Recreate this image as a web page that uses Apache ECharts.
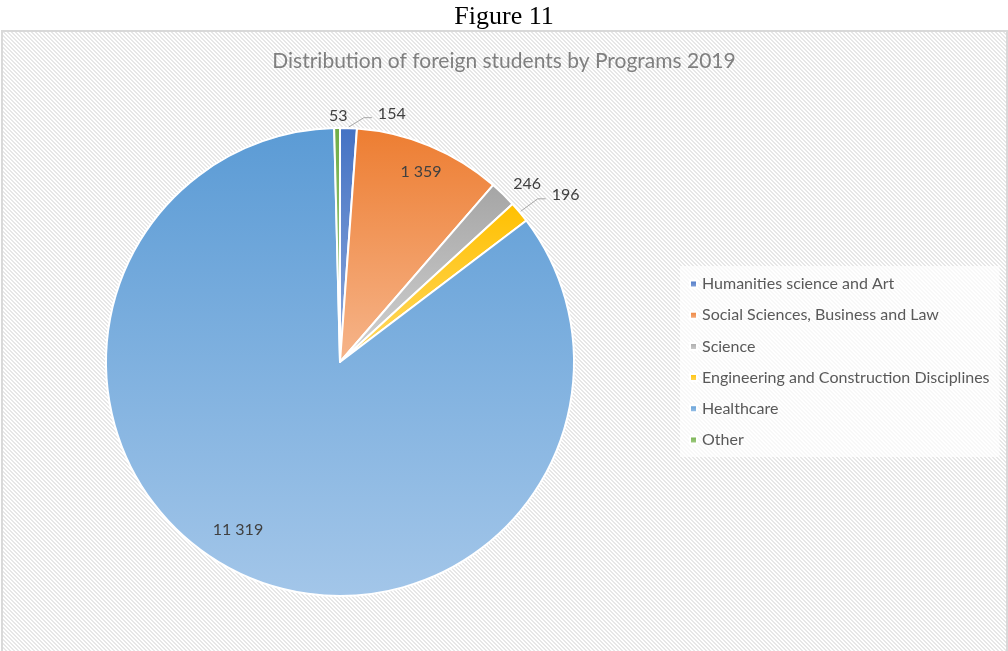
<!DOCTYPE html>
<html>
<head>
<meta charset="utf-8">
<script src="https://cdn.jsdelivr.net/npm/echarts@6/dist/echarts.min.js"></script>
<style>
  html, body { margin: 0; padding: 0; background: #ffffff; }
  #frame {
    position: absolute; left: 1px; top: 30px; width: 1003px; height: 619px;
    border: 2px solid #d9d9d9;
  }
  #chart { position: absolute; left: 0; top: 0; width: 1008px; height: 651px; }
</style>
</head>
<body>
<div id="frame"></div>
<div id="chart"></div>
<script>
// Foreign students by study programme, 2019
const categories = [
  'Humanities science and Art',
  'Social Sciences, Business and Law',
  'Science',
  'Engineering and Construction Disciplines',
  'Healthcare',
  'Other'
];
const students = [154, 1359, 246, 196, 11319, 53];

// slice colours: top colour and lighter bottom colour of each gradient
const topColors = ['#4472c4', '#ed7d31', '#a5a5a5', '#ffc000', '#5b9bd5', '#70ad47'];
const bottomColors = ['#8faadc', '#f6b58b', '#d2d2d2', '#ffd966', '#a3c6e9', '#a9d18e'];

// label placement: radius as a fraction of the pie radius, turn in degrees from the slice middle
const labelPlacement = [
  { r: 1.084, turn: 9.7, line: true },
  { r: 0.882, turn: 0.6, line: false },
  { r: 1.104, turn: 2.2, line: false },
  { r: 1.2, turn: 3.3, line: true },
  { r: 0.84, turn: 5.6, line: false },
  { r: 1.052, turn: 0.3, line: false }
];

const CX = 340, CY = 362, R = 234;

// hatched chart-area fill built from a small pixel tile
(function () {
  const t = document.createElement('canvas');
  t.width = 4; t.height = 4;
  const g = t.getContext('2d');
  g.fillStyle = '#ffffff'; g.fillRect(0, 0, 4, 4);
  g.fillStyle = '#e7e7e7';
  for (let y = 0; y < 4; y++) {
    for (let x = 0; x < 4; x++) {
      const k = ((x - y) % 4 + 4) % 4;
      if (k === 0 || k === 1) g.fillRect(x, y, 1, 1);
    }
  }
  document.getElementById('frame').style.background = 'url(' + t.toDataURL() + ')';
})();

const total = students.reduce((a, b) => a + b, 0);
const midAngles = [];
let acc = 0;
students.forEach(v => { midAngles.push((acc + v / 2) / total * 360); acc += v; });

const fmt = v => String(v).replace(/\B(?=(\d{3})+(?!\d))/g, ' ');

const seriesData = categories.map((name, i) => ({
  name: name,
  value: students[i],
  itemStyle: {
    color: {
      type: 'linear', x: 0, y: 0, x2: 0, y2: 1,
      colorStops: [
        { offset: 0, color: topColors[i] },
        { offset: 1, color: bottomColors[i] }
      ]
    }
  },
  labelLine: { show: labelPlacement[i].line }
}));

const chart = echarts.init(document.getElementById('chart'), null, { renderer: 'canvas' });

chart.setOption({
  backgroundColor: 'transparent',
  animation: false,
  title: [
    {
      text: 'Figure 11',
      left: 'center', top: -1,
      textStyle: { fontFamily: 'Liberation Serif', fontSize: 26, fontWeight: 'normal', color: '#000000' }
    },
    {
      text: 'Distribution of foreign students by Programs 2019',
      left: 'center', top: 46,
      textStyle: { fontFamily: 'Lato', fontSize: 21, fontWeight: 'normal', color: '#808080' }
    }
  ],
  legend: {
    orient: 'vertical',
    left: 680, top: 266,
    padding: [9, 10, 8, 9],
    itemGap: 13.2,
    itemWidth: 7, itemHeight: 7,
    icon: 'rect',
    backgroundColor: 'rgba(255,255,255,0.72)',
    textStyle: { fontFamily: 'Lato', fontSize: 16, lineHeight: 18, color: '#595959' },
    data: categories
  },
  series: [{
    type: 'pie',
    center: [CX, CY],
    radius: R,
    startAngle: 90,
    clockwise: true,
    avoidLabelOverlap: false,
    itemStyle: { borderColor: '#ffffff', borderWidth: 2 },
    label: {
      show: true,
      position: 'outside',
      fontFamily: 'Lato', fontSize: 16, color: '#404040',
      formatter: p => fmt(p.value)
    },
    labelLine: {
      show: true, length: 10, length2: 8,
      lineStyle: { color: '#a6a6a6', width: 1 }
    },
    emphasis: { disabled: true },
    labelLayout: function (params) {
      const i = params.dataIndex;
      const pl = labelPlacement[i];
      const a = (midAngles[i] + pl.turn) * Math.PI / 180;
      const x = CX + R * pl.r * Math.sin(a);
      const y = CY - R * pl.r * Math.cos(a);
      const out = { x: x, y: y, align: 'center', verticalAlign: 'middle' };
      if (pl.line) {
        const m = midAngles[i] * Math.PI / 180;
        const sx = CX + (R + 1) * Math.sin(m);
        const sy = CY - (R + 1) * Math.cos(m);
        const ex = x - params.labelRect.width / 2 - 6;
        const ey = y + 4;
        out.labelLinePoints = [[sx, sy], [ex - 8, ey], [ex, ey]];
      }
      return out;
    },
    data: seriesData
  }]
});
</script>
</body>
</html>
